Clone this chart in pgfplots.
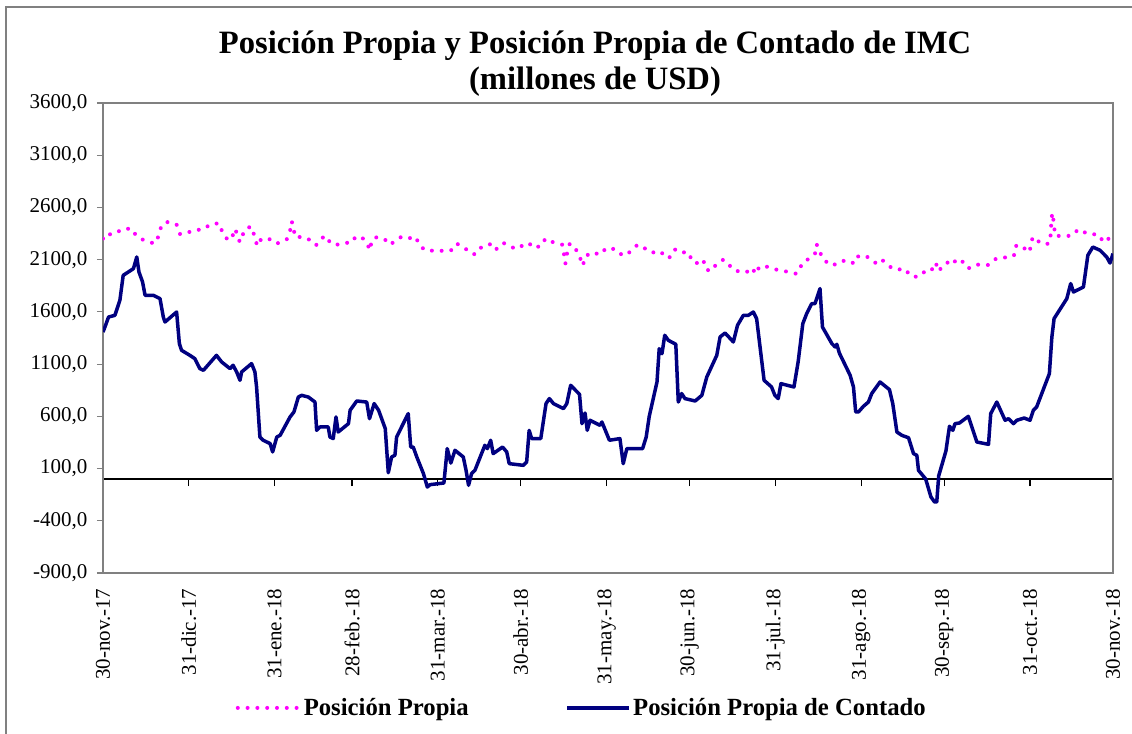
\documentclass[border=0pt]{standalone}
\usepackage{fontspec}
\setmainfont{Liberation Serif}
\usepackage{pgfplots}
\usepackage{pgfplotstable}
\pgfplotsset{compat=1.18}
\definecolor{navy}{RGB}{0,0,128}
\definecolor{pinkdot}{RGB}{255,0,255}
\definecolor{framegray}{RGB}{128,128,128}

\pgfplotstableread{
day val
0 2302
0.7 2343
4 2343
7 2394
10.4 2397
11.9 2333
13.6 2302
15.4 2279
18.7 2254
20.3 2336
21.1 2429
23.4 2461
26.6 2436
27.8 2346
29.6 2346
32.8 2384
36.1 2388
39 2442
42 2448
43.1 2365
45 2292
46.7 2302
47.3 2394
48.4 2359
49.4 2269
50.3 2333
52.3 2410
54 2410
54.7 2317
55.8 2231
57.1 2295
59.7 2305
62.4 2254
64 2263
66.4 2295
67.6 2375
68.2 2467
68.8 2413
69.4 2317
72.5 2317
75 2286
77 2238
78 2276
80.2 2330
82 2269
83.8 2238
86.8 2260
89.9 2263
91.3 2321
93.7 2311
95.7 2238
96.5 2190
97.1 2286
99 2317
102.3 2286
103.5 2244
105.2 2269
107.7 2317
110.7 2302
111.9 2327
113.4 2292
115.2 2216
117.2 2183
120.6 2190
124.2 2180
125.8 2190
127.8 2254
130.6 2216
132.6 2164
134.5 2151
136.8 2221
139.1 2247
140.6 2247
141.9 2196
144.7 2260
147.1 2228
149.3 2202
152.2 2244
154 2260
155.2 2216
158.2 2228
159.9 2302
162.5 2269
165.9 2244
166.6 2151
167.1 2062
167.3 2107
168 2199
168.7 2254
171.2 2187
172.6 2104
173.4 2043
174.3 2132
176.8 2171
179.6 2148
181.9 2212
185.4 2199
187.4 2148
188.8 2139
190.5 2177
193.1 2241
194.8 2209
197.2 2206
199.9 2148
202.5 2164
204.6 2116
206.4 2196
207.9 2196
209.7 2183
210.9 2120
213.3 2126
214.9 2056
217 2091
217.8 2011
219.5 1989
221.8 2059
224.2 2101
226.6 2040
228.8 1989
231.8 1998
234.8 1960
235.8 2043
236.8 2014
238.4 2046
241.3 2020
243.9 2001
247.1 1986
250.3 1967
251.3 1979
252.7 2068
255.5 2116
257.3 2158
257.9 2247
259.1 2168
260.7 2091
263.7 2043
266.6 2087
269.7 2091
271.4 2062
273 2135
275.6 2135
278.2 2097
279.6 2056
281.7 2094
284.2 2037
285.6 2011
287.4 2005
289.7 2014
291.9 1944
294.5 1934
297.1 1989
299.2 1989
300.9 2072
302 1989
303.9 2056
305.7 2078
307.3 2107
308.5 2056
311 2084
313 2020
314.5 2046
316.5 2053
320 2049
322.6 2107
325 2110
327.2 2135
329.2 2139
329.8 2231
332 2238
334.3 2168
335.4 2221
335.9 2317
337.7 2279
340.8 2244
342.3 2269
342.5 2365
342.7 2455
343 2547
343.3 2515
343.7 2422
344.1 2330
347 2324
350.1 2330
352.5 2391
354.7 2362
357.1 2340
359.3 2346
361.6 2273
362.9 2308
364.5 2276
}\propia

\pgfplotstableread{
day val
0 1407
0.7 1455
2 1551
4.3 1567
6.1 1711
7.3 1950
11 2014
12.2 2126
13 1982
14.3 1886
15.2 1759
18.2 1759
20.6 1727
21.8 1551
22.4 1503
26.6 1599
27.6 1296
28.4 1232
31.4 1184
33.2 1152
35 1057
36.3 1041
41 1184
42.9 1120
45.9 1057
47 1089
48.3 1025
49.5 945
50.1 1025
53.7 1105
54.9 1025
55.5 881
56.7 402
57.9 371
60.4 339
61.3 259
62.8 402
64 418
67.6 594
69 642
70.6 785
71.8 801
74.2 785
76.6 737
77.2 466
78.4 498
81.4 498
82 402
83.2 387
84.2 594
85 450
88.7 530
89.3 658
91.7 747
95.3 737
96.3 578
98 722
99.6 658
102 483
103.1 60
104.3 211
105.5 227
106.1 402
110.3 626
111.2 306
112.1 306
113.4 211
115.8 52
117.2 -77
118.2 -54
123.2 -38
124.4 291
125.7 153
127.2 275
130.2 211
131.2 83
132.1 -60
133.2 52
134.4 83
138 323
138.9 291
140.1 371
141 243
144.4 306
145.9 259
146.8 147
151.9 131
153.1 163
154 466
154.9 387
158.2 387
160.1 722
161.3 770
162.8 722
166.4 674
167.6 722
169 897
172.2 811
173.1 530
174.2 632
175 466
176 562
179.6 514
180.3 546
183 371
186.8 387
188 147
189.3 291
195 291
196.3 402
197.4 600
200.2 929
201 1248
202 1200
203 1376
204.3 1328
207 1290
207.9 737
209.1 818
210.3 770
214 747
216.4 801
218.2 977
221.8 1184
223 1360
224.8 1398
227.8 1312
229.3 1472
231.4 1567
233.2 1567
235 1599
236.2 1536
238.9 945
241.6 881
242.8 801
244 770
245 913
249.7 881
251.2 1120
252.9 1488
254.3 1584
256.1 1679
257.3 1679
259.1 1823
260 1455
263.4 1296
264.6 1264
265.2 1290
266.1 1206
270 993
271.2 881
272 642
273 642
274.8 696
276.6 737
277.8 818
280.8 929
284.2 856
285.4 722
286.9 450
288.7 418
291.1 395
292.9 243
294.1 227
294.7 83
297.3 0
299.2 -172
300.5 -220
301.3 -220
302 30
304.6 267
305.9 505
307.1 466
307.9 530
309.5 536
312.7 600
315.8 354
320 332
320.8 626
323 737
326 562
327.2 578
329 530
330.2 562
332.9 584
335 562
336.2 658
337.4 690
342 1009
342.9 1360
343.7 1536
348.3 1727
349.7 1871
350.7 1791
354.3 1838
355.9 2142
357.7 2221
360.3 2190
362.7 2126
363.9 2068
365 2158
}\contado

\begin{document}
\begin{tikzpicture}
\useasboundingbox (0bp,0bp) rectangle (1132bp,-734bp);
\draw[framegray, line width=2bp] (6bp,-740bp) -- (6bp,-7bp) -- (1140bp,-7bp);
\node[anchor=base, font=\fontsize{32.6bp}{36bp}\selectfont\bfseries] at (595bp,-53bp) {Posición Propia y Posición Propia de Contado de IMC};
\node[anchor=base, font=\fontsize{32.6bp}{36bp}\selectfont\bfseries] at (595bp,-89bp) {(millones de USD)};

% x axis line at zero with its ticks
\begin{axis}[at={(103bp,-573bp)}, anchor=south west, width=1010bp, height=470bp, scale only axis,
  xmin=0, xmax=365, ymin=-900, ymax=3600,
  axis x line=middle, axis y line=none,
  x axis line style={-, black, line width=1.5bp},
  xtick={0,31,62,90,121,151,182,212,243,274,304,335,365}, xticklabels={},
  ytick=\empty, xtick align=outside,
  tick style={black, line width=1.2bp}, major tick length=7bp]
\end{axis}

\begin{axis}[at={(103bp,-573bp)}, anchor=south west, width=1010bp, height=470bp, scale only axis,
  xmin=0, xmax=365, ymin=-900, ymax=3600,
  axis line style={framegray, line width=1.5bp},
  xtick={0,31,62,90,121,151,182,212,243,274,304,335,365},
  xticklabels={30-nov.-17, 31-dic.-17, 31-ene.-18, 28-feb.-18, 31-mar.-18, 30-abr.-18, 31-may.-18, 30-jun.-18, 31-jul.-18, 31-ago.-18, 30-sep.-18, 31-oct.-18, 30-nov.-18},
  ytick={-900,-400,100,600,1100,1600,2100,2600,3100,3600},
  yticklabels={{-900,0},{-400,0},{100,0},{600,0},{1100,0},{1600,0},{2100,0},{2600,0},{3100,0},{3600,0}},
  xtick style={draw=none}, ytick style={framegray, line width=1.2bp},
  tick align=outside, major tick length=6bp,
  xtick pos=bottom, ytick pos=left,
  tick label style={font=\fontsize{21bp}{24bp}\selectfont},
  xticklabel style={rotate=90, anchor=east},
  xticklabel shift=6bp, yticklabel shift=6bp,
  legend style={at={(axis description cs:0.474,-0.287)}, anchor=center, draw=none, fill=none,
    font=\fontsize{24.7bp}{28bp}\selectfont\bfseries, /tikz/every even column/.append style={column sep=95bp}},
  legend columns=2,
  legend image code/.code={\draw[#1] (0bp,0bp) -- (62bp,0bp);},
  ]
\addplot[pinkdot, line width=4bp, line cap=round, dash pattern=on 0bp off 9.8bp] table[x=day, y=val] {\propia};
\addlegendentry{Posición Propia}
\addplot[navy, line width=3.5bp, line join=round] table[x=day, y=val] {\contado};
\addlegendentry{Posición Propia de Contado}
\end{axis}
\end{tikzpicture}
\end{document}
